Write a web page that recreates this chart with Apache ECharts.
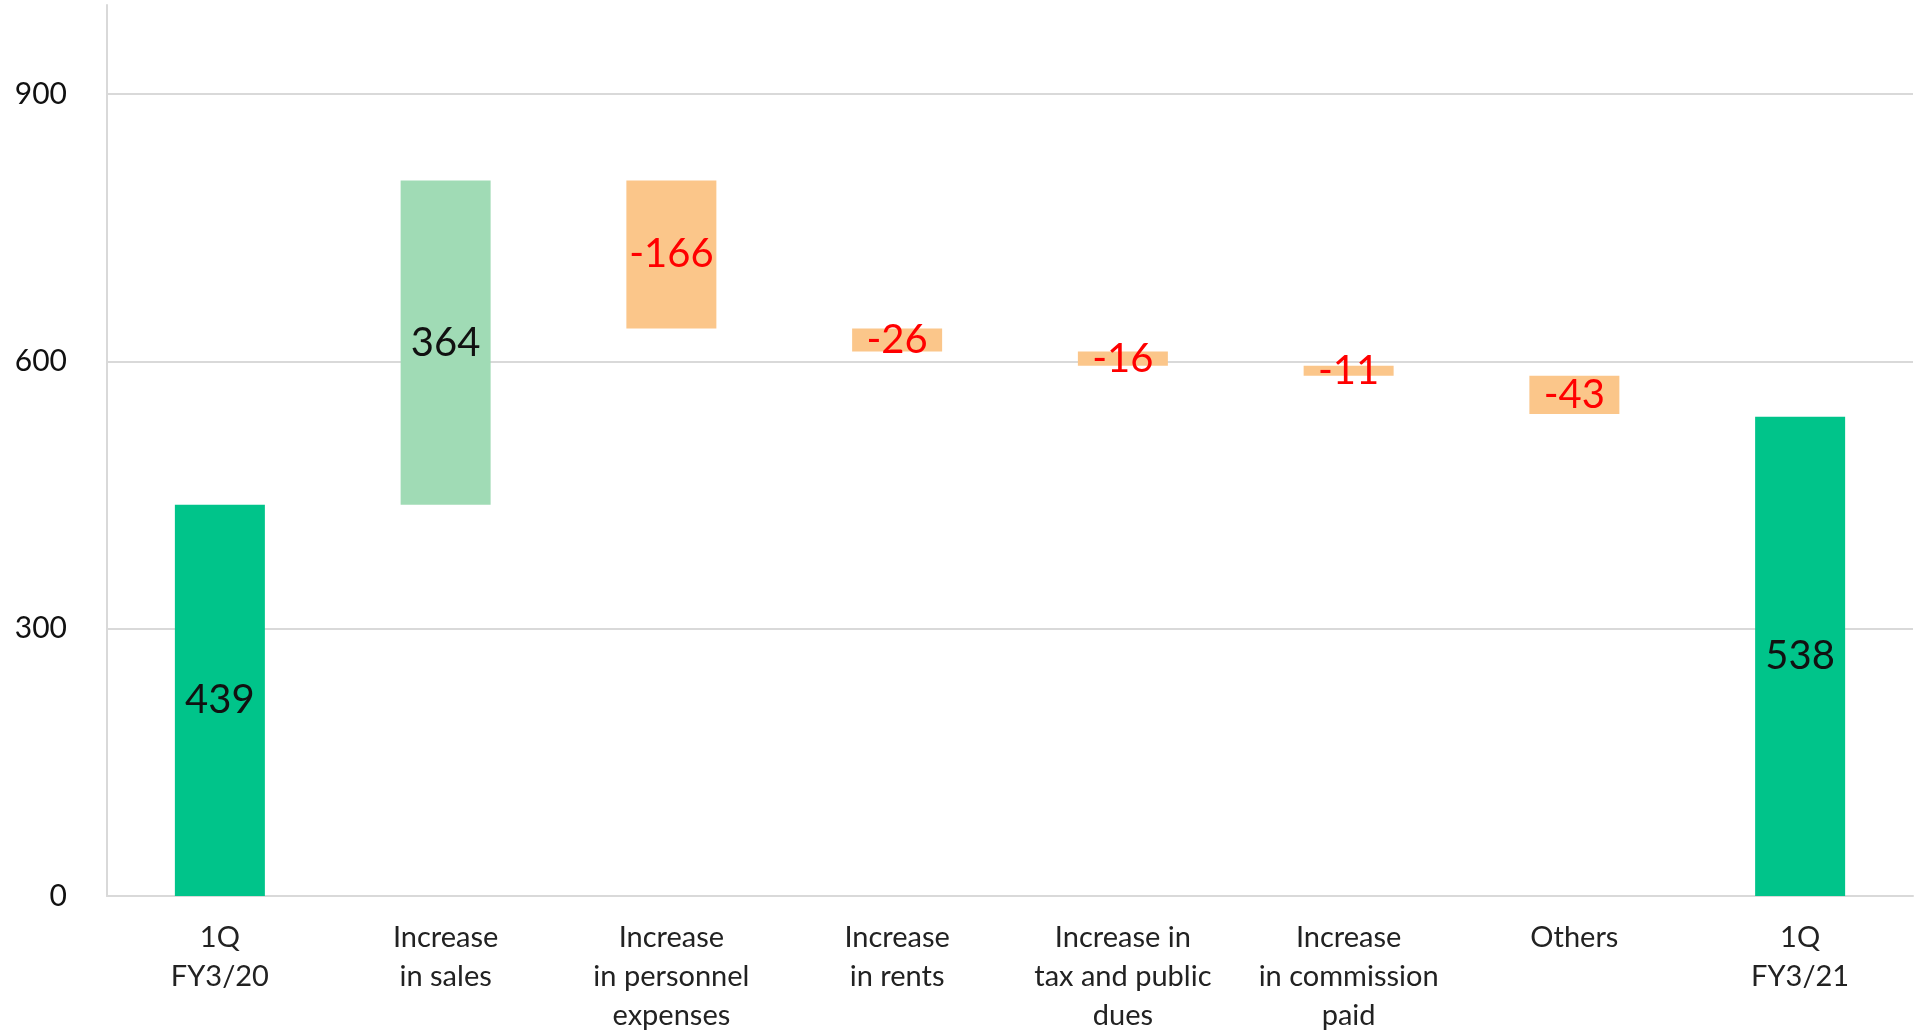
<!DOCTYPE html>
<html>
<head>
<meta charset="utf-8">
<script src="https://cdn.jsdelivr.net/npm/echarts@6/dist/echarts.min.js"></script>
<style>
  html, body { margin: 0; padding: 0; background: #fff; }
  #chart { width: 1917px; height: 1035px; }
</style>
</head>
<body>
<div id="chart"></div>
<script>
// Waterfall: operating profit bridge, 1Q FY3/20 -> 1Q FY3/21
const categories = [
  '1Q\nFY3/20',
  'Increase\nin sales',
  'Increase\nin personnel\nexpenses',
  'Increase\nin rents',
  'Increase in\ntax and public\ndues',
  'Increase\nin commission\npaid',
  'Others',
  '1Q\nFY3/21'
];
const values = [439, 364, -166, -26, -16, -11, -43, 538];
// 'total' bars start at zero, 'delta' bars float on the running sum
const kinds = ['total', 'delta', 'delta', 'delta', 'delta', 'delta', 'delta', 'total'];
const yTicks = [0, 300, 600, 900];

const colors = {
  total: '#00c48a',
  up: '#a0dbb5',
  down: '#fbc68a',
  textDark: '#111111',
  textRed: '#ff0000',
  grid: '#d9d9d9'
};

// Build the invisible offset and the visible bar lengths
const baseData = [];
const barData = [];
let running = 0;
values.forEach((v, i) => {
  if (kinds[i] === 'total') {
    baseData.push(0);
    running = v;
    barData.push({
      value: v,
      itemStyle: { color: colors.total },
      label: { color: colors.textDark }
    });
  } else if (v >= 0) {
    baseData.push(running);
    running += v;
    barData.push({
      value: v,
      itemStyle: { color: colors.up },
      label: { color: colors.textDark }
    });
  } else {
    running += v;
    baseData.push(running);
    barData.push({
      value: -v,
      itemStyle: { color: colors.down },
      label: { color: colors.textRed }
    });
  }
});

const font = 'Lato, "Open Sans", sans-serif';
const chart = echarts.init(document.getElementById('chart'), null, { renderer: 'canvas' });

chart.setOption({
  animation: false,
  backgroundColor: '#ffffff',
  grid: { left: 107, right: 4, top: 5, bottom: 134, containLabel: false },
  xAxis: {
    type: 'category',
    data: categories,
    axisLine: { show: true, lineStyle: { color: colors.grid, width: 2 } },
    axisTick: { show: false },
    axisLabel: {
      interval: 0,
      margin: 22,
      color: '#222222',
      fontFamily: font,
      fontSize: 29,
      lineHeight: 39,
      align: 'center'
    }
  },
  yAxis: {
    type: 'value',
    min: yTicks[0],
    max: 1000,
    interval: yTicks[1] - yTicks[0],
    axisLine: { show: true, lineStyle: { color: colors.grid, width: 2 } },
    axisTick: { show: false },
    axisLabel: {
      showMaxLabel: false,
      margin: 40,
      color: '#111111',
      fontFamily: font,
      fontSize: 30
    },
    splitLine: {
      show: true,
      lineStyle: {
        color: [colors.grid, colors.grid, colors.grid, colors.grid, 'rgba(0,0,0,0)'],
        width: 2
      }
    }
  },
  series: [
    {
      name: 'offset',
      type: 'bar',
      stack: 'wf',
      barWidth: 90,
      silent: true,
      itemStyle: { color: 'rgba(0,0,0,0)' },
      data: baseData
    },
    {
      name: 'change',
      type: 'bar',
      stack: 'wf',
      barWidth: 90,
      data: barData,
      label: {
        show: true,
        position: 'inside',
        fontFamily: font,
        fontSize: 40,
        formatter: (p) => String(values[p.dataIndex])
      }
    }
  ]
});
</script>
</body>
</html>
